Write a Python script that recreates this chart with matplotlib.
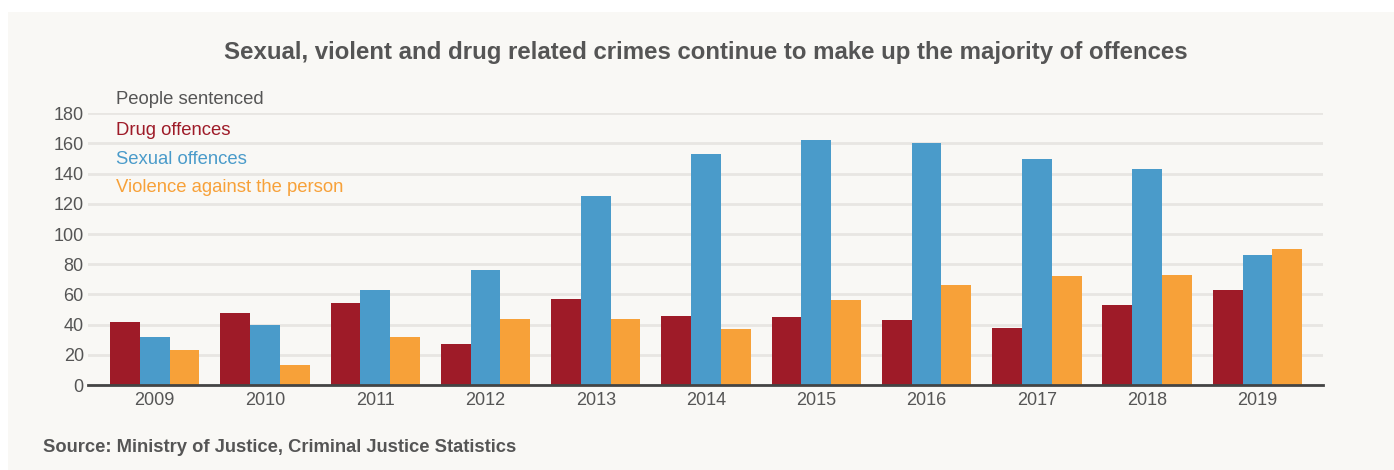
import numpy as np
import matplotlib
matplotlib.use('Agg')
import matplotlib.pyplot as plt
from matplotlib.patches import Rectangle

# data
years = ['2009', '2010', '2011', '2012', '2013', '2014', '2015', '2016', '2017', '2018', '2019']
drug = [42, 48, 54, 27, 57, 46, 45, 43, 38, 53, 63]
sexual = [32, 40, 63, 76, 125, 153, 162, 160, 150, 143, 86]
violence = [23, 13, 32, 44, 44, 37, 56, 66, 72, 73, 90]
series_names = ['Drug offences', 'Sexual offences', 'Violence against the person']
y_ticks = [0, 20, 40, 60, 80, 100, 120, 140, 160, 180]

colors = ['#9e1b28', '#4a9bca', '#f7a139']
bg = '#f9f8f5'
text_grey = '#555555'

plt.rcParams['font.family'] = ['Liberation Sans', 'DejaVu Sans']

fig = plt.figure(figsize=(13.94, 4.70), dpi=100)
fig.patch.set_facecolor('white')
# panel behind the chart
fig.patches.append(Rectangle((8 / 1394, 0), 1 - 8 / 1394, 1 - 12 / 470,
                             transform=fig.transFigure, facecolor=bg,
                             edgecolor='none', zorder=-10))

ax = fig.add_axes([88 / 1394, 1 - 385 / 470, (1323 - 88) / 1394, (385 - 113.3) / 470])
ax.set_facecolor(bg)

x = np.arange(len(years))
w = 0.27
for i, (vals, c) in enumerate(zip([drug, sexual, violence], colors)):
    ax.bar(x + (i - 1) * w, vals, width=w, color=c, zorder=3)

ax.set_xlim(-0.605, len(years) - 1 + 0.595)
ax.set_ylim(0, 180)
ax.set_yticks(y_ticks)
ax.set_yticklabels([str(v) for v in y_ticks])
ax.set_xticks(x)
ax.set_xticklabels(years)
ax.tick_params(axis='both', length=0, labelsize=13, labelcolor=text_grey)
ax.tick_params(axis='y', pad=3)
ax.tick_params(axis='x', pad=5)
ax.grid(axis='y', color='#e8e6e2', linewidth=2, zorder=0)
for s in ['top', 'right', 'left']:
    ax.spines[s].set_visible(False)
ax.spines['bottom'].set_color('#444444')
ax.spines['bottom'].set_linewidth(2)
ax.spines['bottom'].set_zorder(4)

# legend as coloured text
fig.text(116 / 1394, 1 - 100 / 470, 'People sentenced', color=text_grey,
         fontsize=13.3, va='center', ha='left')
for name, c, ypix in zip(series_names, colors, [130, 159, 187]):
    fig.text(116 / 1394, 1 - ypix / 470, name, color=c, fontsize=13.3,
             va='center', ha='left')

fig.text(706 / 1394, 1 - 53 / 470,
         'Sexual, violent and drug related crimes continue to make up the majority of offences',
         ha='center', va='center', fontsize=17.3, fontweight='bold', color='#555555')
fig.text(43 / 1394, 1 - 448 / 470, 'Source: Ministry of Justice, Criminal Justice Statistics',
         ha='left', va='center', fontsize=13.2, fontweight='bold', color='#555555')

fig.savefig('out.png', dpi=100, facecolor=fig.get_facecolor())
